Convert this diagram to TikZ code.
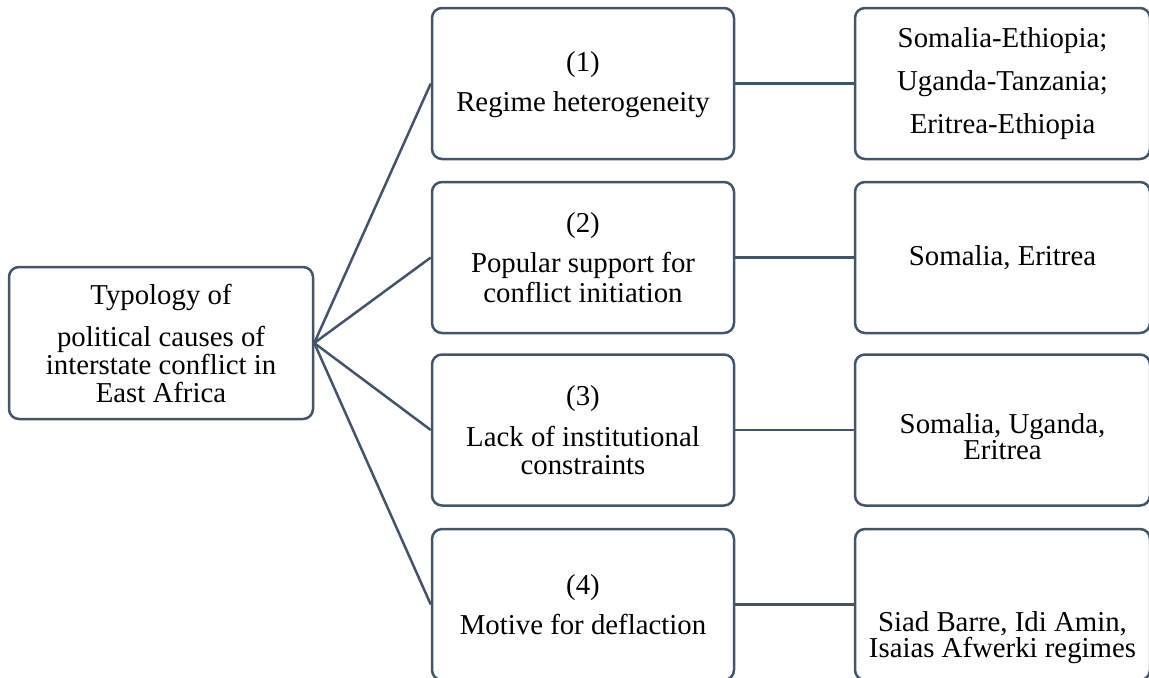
\documentclass[tikz,border=0pt]{standalone}
\usepackage{fontspec}
\setmainfont{Liberation Serif}
\usepackage{tikz}
\usetikzlibrary{positioning}
\definecolor{linecol}{HTML}{44546A}

\begin{document}
\begin{tikzpicture}[x=0.5pt,y=-0.5pt,line width=1.25pt,
        box/.style={shape=rectangle,rounded corners=5pt,draw=linecol,inner sep=0pt,
            align=center,font=\fontsize{14.4}{14}\selectfont},
        root/.style={box,minimum width=152pt,minimum height=76pt},
        cause/.style={box,minimum width=151pt,minimum height=75.5pt},
        case/.style={box,minimum width=147.5pt,minimum height=75.5pt}]
        
            \useasboundingbox (0,0) rectangle (1149,677);
        
            % Root node
            \node[root] (T) at (161,343) {Typology of\\[7pt]political causes of\\interstate conflict in\\East Africa};
            
            % Cause nodes
            \node[cause] (P1) at (583,83.5) {(1)\\[6pt]Regime heterogeneity\\[-12pt]\vphantom{X}};
            \node[cause] (P2) at (583,257.5) {(2)\\[6pt]Popular support for\\[1pt]conflict initiation};
            \node[cause] (P3) at (583,430) {(3)\\[6.5pt]Lack of institutional\\constraints};
            \node[cause] (P4) at (583,604.5) {(4)\\[6pt]Motive for deflaction};
            
            % Case nodes
            \node[case] (E1) at (1002.5,83.5) {Somalia-Ethiopia;\\[7.5pt]Uganda-Tanzania;\\[7.5pt]Eritrea-Ethiopia};
            \node[case] (E2) at (1002.5,257.5) {Somalia, Eritrea};
            \node[case] (E3) at (1002.5,430) {\vphantom{X}\\[-7pt]Somalia, Uganda,\\[-1pt]Eritrea};
            \node[case] (E4) at (1002.5,604.5) {\vphantom{X}\\[20pt]Siad Barre, Idi Amin,\\[-1pt]Isaias Afwerki regimes};
            
            % Lines from the root to the causes
            \draw[linecol] (T.east) -- (P1.west);
            \draw[linecol] (T.east) -- (P2.west);
            \draw[linecol] (T.east) -- (P3.west);
            \draw[linecol] (T.east) -- (P4.west);
            
            % Lines from the causes to the cases
            \draw[linecol] (P1) -- (E1);
            \draw[linecol] (P2) -- (E2);
            \draw[linecol] (P3) -- (E3);
            \draw[linecol] (P4) -- (E4);
        
        \end{tikzpicture}
\end{document}
